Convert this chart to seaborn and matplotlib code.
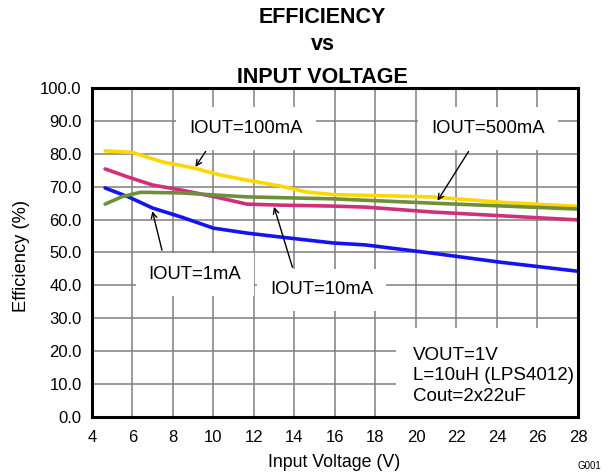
import numpy as np
import pandas as pd
import matplotlib
matplotlib.use("Agg")
import matplotlib.pyplot as plt
from matplotlib.patches import Rectangle
import seaborn as sns

# ---- data ----
vin_1ma = [4.65, 5.8, 7.0, 8.4, 10.0, 11.65, 13.3, 15.9, 17.5, 20.8, 24.1, 28.0]
eff_1ma = [69.6, 66.9, 63.5, 60.8, 57.4, 55.9, 54.7, 52.9, 52.3, 49.8, 47.1, 44.3]

vin_10ma = [4.65, 5.8, 7.0, 8.4, 10.3, 11.65, 13.3, 15.9, 17.5, 20.8, 28.0]
eff_10ma = [75.4, 72.9, 70.5, 69.0, 66.6, 64.7, 64.4, 64.1, 63.8, 62.3, 59.9]

vin_100ma = [4.65, 6.0, 7.5, 9.0, 10.3, 11.65, 13.3, 14.6, 15.9, 20.8, 24.1, 28.0]
eff_100ma = [80.9, 80.4, 77.5, 75.7, 73.6, 72.0, 70.2, 68.4, 67.6, 66.9, 65.3, 64.0]

vin_500ma = [4.65, 5.5, 6.4, 8.4, 11.65, 15.9, 20.8, 28.0]
eff_500ma = [64.7, 67.0, 68.3, 68.1, 66.9, 66.3, 65.0, 63.2]

series = ["IOUT=1mA", "IOUT=10mA", "IOUT=100mA", "IOUT=500mA"]
colors = ["#1414F0", "#D0307A", "#FFD700", "#6F8F3C"]

x_ticks = list(range(4, 29, 2))
y_ticks = list(range(0, 101, 10))

# annotation text, its anchor and the arrow ends (data coords)
labels = ["IOUT=100mA", "IOUT=500mA", "IOUT=1mA", "IOUT=10mA"]
label_xy = [(11.6, 87.7), (23.56, 87.8), (9.09, 43.2), (15.36, 38.6)]
arrow_tail = [(9.69, 81.4), (22.67, 81.4), (7.49, 49.9), (13.94, 44.7)]
arrow_tip = [(9.03, 75.3), (20.99, 65.0), (6.95, 63.4), (12.95, 64.7)]

title_lines = ["EFFICIENCY", "vs", "INPUT VOLTAGE"]
cond_text = "VOUT=1V\nL=10uH (LPS4012)\nCout=2x22uF"

# ---- build long frame ----
frames = []
for name, xs, ys in zip(series,
                        [vin_1ma, vin_10ma, vin_100ma, vin_500ma],
                        [eff_1ma, eff_10ma, eff_100ma, eff_500ma]):
    frames.append(pd.DataFrame({"Vin": xs, "Eff": ys, "curve": name}))
df = pd.concat(frames, ignore_index=True)

sns.set_style("white")
plt.rcParams["font.family"] = ["Liberation Sans", "DejaVu Sans"]
plt.rcParams["text.color"] = "black"
plt.rcParams["axes.labelcolor"] = "black"
plt.rcParams["xtick.color"] = "black"
plt.rcParams["ytick.color"] = "black"

fig = plt.figure(figsize=(6.09, 4.73), dpi=100)
ax = fig.add_axes([0.151, 0.1184, 0.798, 0.6956])

sns.lineplot(data=df, x="Vin", y="Eff", hue="curve", hue_order=series,
             palette=colors, linewidth=2.6, legend=False, ax=ax,
             sort=True, zorder=5)

ax.set_xlim(4, 28)
ax.set_ylim(0, 100)
ax.set_xticks(x_ticks)
ax.set_yticks(y_ticks)
ax.set_xticklabels([str(t) for t in x_ticks], fontsize=12)
ax.set_yticklabels([f"{t:.1f}" for t in y_ticks], fontsize=12)
ax.tick_params(axis="x", length=0, pad=9.5)
ax.tick_params(axis="y", length=0, pad=7.5)
ax.grid(True, color="#7F7F7F", linewidth=1.1)
ax.set_axisbelow(True)
for s in ax.spines.values():
    s.set_color("black")
    s.set_linewidth(2.2)
    s.set_zorder(7)

ax.set_xlabel("Input Voltage (V)", fontsize=12.8, va="center", ha="center")
ax.xaxis.set_label_coords(0.498, -0.137)
ax.set_ylabel("Efficiency (%)", fontsize=13.2, va="center", ha="center")
ax.yaxis.set_label_coords(-0.144, 0.491)

for line, yb in zip(title_lines, [0.9514, 0.8943, 0.8245]):
    fig.text(0.530, yb, line, ha="center", va="baseline",
             fontsize=15.5, fontweight="bold")

for txt, xy, tail, tip in zip(labels, label_xy, arrow_tail, arrow_tip):
    ax.text(xy[0], xy[1], txt, ha="center", va="center", fontsize=13.3,
            zorder=3, bbox=dict(facecolor="white", edgecolor="none",
                                boxstyle="square,pad=0.7"))
    ax.annotate("", xy=tip, xytext=tail, zorder=6,
                arrowprops=dict(arrowstyle="->", color="black", lw=1.0))

# white panel behind the conditions text
ax.add_patch(Rectangle((19.0, 0), 9.0, 27.0, facecolor="white",
                       edgecolor="none", zorder=2))
ax.text(19.85, 12.6, cond_text, ha="left", va="center", fontsize=13.5,
        linespacing=1.27, zorder=3)

fig.text(0.967, 0.015, "G001", ha="center", va="center", fontsize=7)

fig.savefig("out.png", dpi=100)
